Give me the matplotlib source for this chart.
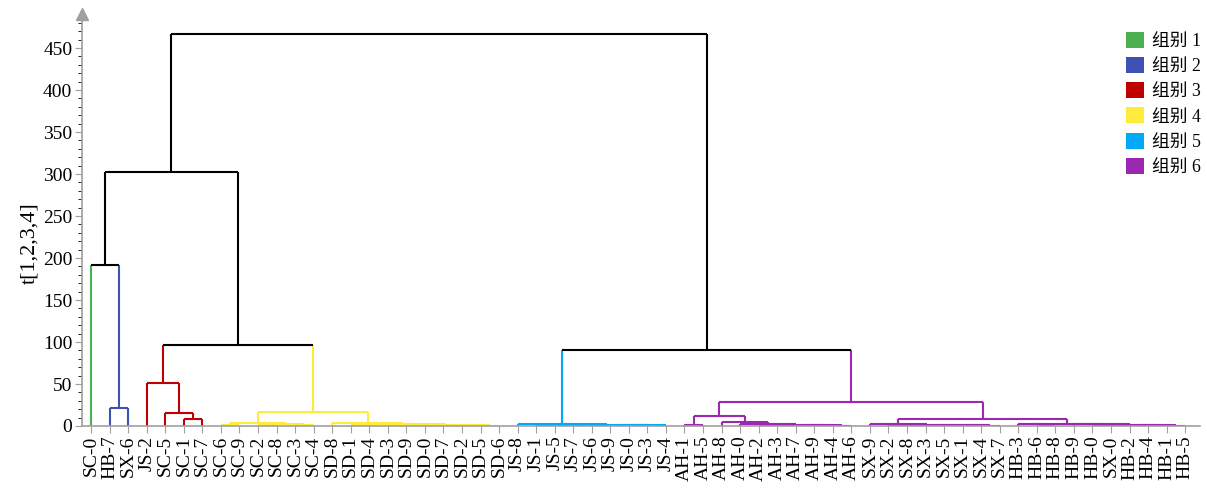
import numpy as np
import matplotlib.pyplot as plt
from matplotlib.patches import Patch

plt.rcParams['font.family'] = ['Liberation Serif', 'Noto Sans CJK SC']

# Muestras (orden de las hojas)
leaves = ['SC-0', 'HB-7', 'SX-6', 'JS-2', 'SC-5', 'SC-1', 'SC-7', 'SC-6', 'SC-9', 'SC-2',
          'SC-8', 'SC-3', 'SC-4', 'SD-8', 'SD-1', 'SD-4', 'SD-3', 'SD-9', 'SD-0', 'SD-7',
          'SD-2', 'SD-5', 'SD-6', 'JS-8', 'JS-1', 'JS-5', 'JS-7', 'JS-6', 'JS-9', 'JS-0',
          'JS-3', 'JS-4', 'AH-1', 'AH-5', 'AH-8', 'AH-0', 'AH-2', 'AH-3', 'AH-7', 'AH-9',
          'AH-4', 'AH-6', 'SX-9', 'SX-2', 'SX-8', 'SX-3', 'SX-5', 'SX-1', 'SX-4', 'SX-7',
          'HB-3', 'HB-6', 'HB-8', 'HB-9', 'HB-0', 'SX-0', 'HB-2', 'HB-4', 'HB-1', 'HB-5']

# Grupo de cada hoja
leaf_group = [1, 2, 2, 3, 3, 3, 3] + [4] * 16 + [5] * 9 + [6] * 28

# Uniones: nodo izquierdo, nodo derecho, altura (nodos nuevos desde 60)
merge_left = [1, 0, 5, 4, 3, 9, 11, 65, 7, 68,
              14, 16, 18, 21, 20, 71, 75, 70, 13, 69,
              64, 61, 24, 26, 82, 28, 85, 86, 84, 23,
              32, 36, 38, 40, 92, 91, 35, 34, 90, 43,
              45, 48, 47, 100, 99, 42, 51, 50, 56, 58,
              108, 54, 111, 53, 107, 105, 98, 89, 81]
merge_right = [2, 60, 6, 62, 63, 10, 12, 66, 8, 67,
               15, 17, 19, 22, 73, 72, 74, 76, 77, 78,
               79, 80, 25, 27, 83, 29, 30, 31, 87, 88,
               33, 37, 39, 41, 93, 94, 95, 96, 97, 44,
               46, 49, 101, 102, 103, 104, 52, 106, 57, 59,
               109, 55, 110, 112, 113, 114, 115, 116, 117]
merge_height = [22, 192, 8, 15.5, 51, 1.0, 0.8, 2.0, 1.2, 3.0,
                1.0, 0.6, 0.5, 0.3, 0.7, 1.2, 1.6, 2.2, 3.0, 16.5,
                96, 302, 0.5, 0.6, 1.0, 0.4, 0.8, 1.2, 1.6, 2.0,
                1.0, 0.4, 0.3, 0.5, 0.7, 1.0, 2.5, 4.5, 12, 0.5,
                0.4, 0.3, 0.6, 0.9, 1.3, 1.8, 0.5, 2.2, 0.3, 0.4,
                0.6, 0.5, 1.0, 1.8, 2.3, 8, 29, 90, 467]

group_names = ['组别 1', '组别 2', '组别 3', '组别 4', '组别 5', '组别 6']
group_colors = ['#4caf50', '#3f51b5', '#c00000', '#ffeb3b', '#03a9f4', '#9c27b0']

n = len(leaves)
pos = list(range(n))
hgt = [0.0] * n
grp = list(leaf_group)
for a, b, h in zip(merge_left, merge_right, merge_height):
    pos.append((pos[a] + pos[b]) / 2)
    hgt.append(h)
    grp.append(grp[a] if grp[a] == grp[b] else None)


def color(node):
    g = grp[node]
    return 'black' if g is None else group_colors[g - 1]


fig = plt.figure(figsize=(12.07, 4.88), dpi=100)
ax = fig.add_axes([82 / 1207, 62 / 488, 1118 / 1207, 412 / 488])

lw = 1.5
for k, (a, b, h) in enumerate(zip(merge_left, merge_right, merge_height)):
    node = n + k
    ax.plot([pos[a], pos[a]], [hgt[a], h], color=color(a), lw=lw, solid_capstyle='butt')
    ax.plot([pos[b], pos[b]], [hgt[b], h], color=color(b), lw=lw, solid_capstyle='butt')
    ax.plot([pos[a], pos[b]], [h, h], color=color(node), lw=lw, solid_capstyle='butt')

ax.set_xlim(-0.49, 59.8)
ax.set_ylim(0, 490.5)

# Ejes en gris con flecha arriba
for side in ['top', 'right']:
    ax.spines[side].set_visible(False)
for side in ['left', 'bottom']:
    ax.spines[side].set_color('#a0a0a0')
    ax.spines[side].set_linewidth(1.2)
ax.plot([-0.49], [490.5], marker='^', color='#a0a0a0', markersize=8, clip_on=False)

ax.set_xticks(range(n))
ax.set_xticklabels(leaves, rotation=90, fontsize=14)
ax.set_yticks(np.arange(0, 451, 50))
ax.set_yticks(np.arange(0, 481, 10), minor=True)
ax.tick_params(axis='both', colors='#a0a0a0', labelcolor='black', labelsize=14)
ax.tick_params(axis='y', which='major', length=5, pad=2)
ax.tick_params(axis='y', which='minor', length=3)
ax.tick_params(axis='x', length=5, pad=2)
ax.set_ylabel('t[1,2,3,4]', fontsize=16)
ax.yaxis.set_label_coords(-0.038, 0.444)

handles = [Patch(facecolor=c, edgecolor='none') for c in group_colors]
fig.legend(handles, group_names, loc='upper left',
           bbox_to_anchor=(1126 / 1207, 1 - 32 / 488),
           frameon=False, fontsize=12.8, handlelength=1.0, handleheight=1.0,
           handletextpad=0.45, labelspacing=0.4, borderaxespad=0, borderpad=0)

plt.savefig('out.png', dpi=100)
